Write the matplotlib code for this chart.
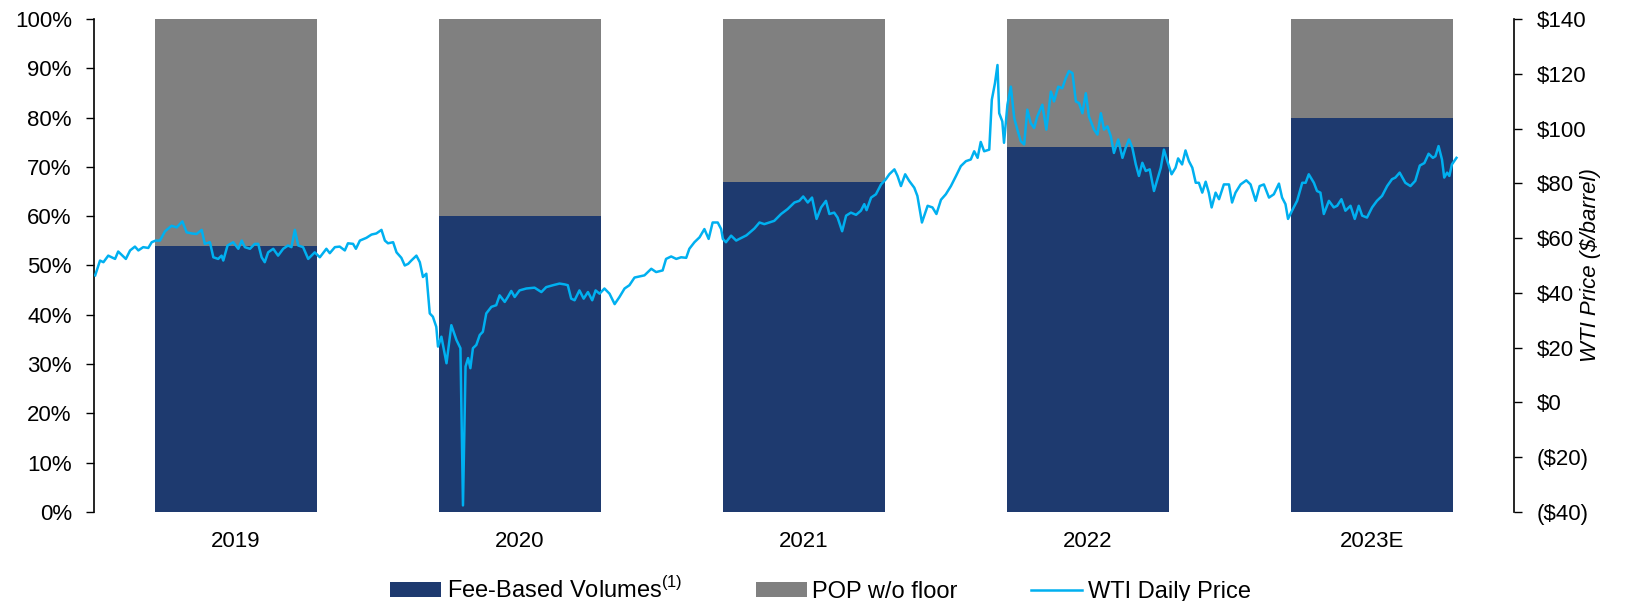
"""Fee-based volume mix by year (stacked bars) with WTI daily price on a secondary axis."""
import matplotlib
matplotlib.use("Agg")
import matplotlib.pyplot as plt
from matplotlib.ticker import FuncFormatter, MultipleLocator

plt.rcParams["font.family"] = ["Liberation Sans", "DejaVu Sans"]
plt.rcParams["mathtext.fontset"] = "custom"
plt.rcParams["mathtext.rm"] = "Liberation Sans"

YEARS = ["2019", "2020", "2021", "2022", "2023E"]
FEE_BASED = [54, 60, 67, 74, 80]          # % of volumes
POP_NO_FLOOR = [46, 40, 33, 26, 20]       # % of volumes

# WTI daily price (decimal year, $/barrel)
WTI_T = [
    2019.004, 2019.021, 2019.033, 2019.050, 2019.074, 2019.085, 2019.112, 2019.127, 2019.144, 2019.156,
    2019.173, 2019.191, 2019.203, 2019.217, 2019.232, 2019.250, 2019.273, 2019.291, 2019.311, 2019.326,
    2019.344, 2019.361, 2019.379, 2019.390, 2019.408, 2019.420, 2019.437, 2019.449, 2019.455, 2019.470,
    2019.490, 2019.508, 2019.520, 2019.531, 2019.549, 2019.566, 2019.578, 2019.590, 2019.601, 2019.613,
    2019.631, 2019.648, 2019.666, 2019.683, 2019.695, 2019.707, 2019.719, 2019.736, 2019.754, 2019.777,
    2019.795, 2019.818, 2019.830, 2019.848, 2019.865, 2019.883, 2019.894, 2019.912, 2019.922, 2019.936,
    2019.959, 2019.977, 2019.994, 2020.012, 2020.024, 2020.035, 2020.053, 2020.065, 2020.082, 2020.094,
    2020.106, 2020.117, 2020.135, 2020.147, 2020.158, 2020.170, 2020.182, 2020.193, 2020.205, 2020.211,
    2020.223, 2020.241, 2020.258, 2020.276, 2020.290, 2020.299, 2020.308, 2020.317, 2020.325, 2020.334,
    2020.346, 2020.358, 2020.369, 2020.381, 2020.399, 2020.416, 2020.428, 2020.446, 2020.457, 2020.469,
    2020.481, 2020.498, 2020.522, 2020.551, 2020.575, 2020.592, 2020.616, 2020.639, 2020.657, 2020.668,
    2020.680, 2020.692, 2020.709, 2020.724, 2020.739, 2020.754, 2020.766, 2020.780, 2020.797, 2020.815,
    2020.833, 2020.850, 2020.868, 2020.885, 2020.903, 2020.921, 2020.938, 2020.962, 2020.979, 2021.002,
    2021.014, 2021.032, 2021.050, 2021.067, 2021.085, 2021.096, 2021.114, 2021.132, 2021.149, 2021.164,
    2021.178, 2021.196, 2021.208, 2021.214, 2021.225, 2021.243, 2021.261, 2021.272, 2021.297, 2021.325,
    2021.343, 2021.360, 2021.378, 2021.395, 2021.419, 2021.442, 2021.466, 2021.483, 2021.497, 2021.513,
    2021.528, 2021.544, 2021.560, 2021.577, 2021.589, 2021.606, 2021.618, 2021.634, 2021.648, 2021.665,
    2021.683, 2021.700, 2021.712, 2021.720, 2021.736, 2021.753, 2021.771, 2021.788, 2021.800, 2021.818,
    2021.829, 2021.841, 2021.856, 2021.870, 2021.888, 2021.899, 2021.915, 2021.935, 2021.952, 2021.966,
    2021.982, 2021.999, 2022.017, 2022.035, 2022.052, 2022.070, 2022.087, 2022.099, 2022.111, 2022.122,
    2022.134, 2022.152, 2022.161, 2022.172, 2022.181, 2022.187, 2022.198, 2022.204, 2022.216, 2022.228,
    2022.240, 2022.251, 2022.263, 2022.275, 2022.286, 2022.298, 2022.310, 2022.321, 2022.339, 2022.353,
    2022.369, 2022.380, 2022.395, 2022.409, 2022.421, 2022.433, 2022.445, 2022.457, 2022.468, 2022.480,
    2022.492, 2022.503, 2022.521, 2022.533, 2022.545, 2022.556, 2022.568, 2022.580, 2022.591, 2022.606,
    2022.621, 2022.632, 2022.644, 2022.656, 2022.668, 2022.679, 2022.691, 2022.703, 2022.717, 2022.732,
    2022.744, 2022.756, 2022.767, 2022.779, 2022.794, 2022.808, 2022.817, 2022.831, 2022.843, 2022.855,
    2022.867, 2022.879, 2022.890, 2022.902, 2022.914, 2022.925, 2022.935, 2022.949, 2022.961, 2022.978,
    2022.996, 2023.007, 2023.019, 2023.037, 2023.057, 2023.072, 2023.090, 2023.104, 2023.119, 2023.137,
    2023.154, 2023.172, 2023.183, 2023.195, 2023.204, 2023.218, 2023.236, 2023.254, 2023.266, 2023.277,
    2023.295, 2023.306, 2023.318, 2023.330, 2023.348, 2023.365, 2023.377, 2023.392, 2023.406, 2023.424,
    2023.439, 2023.453, 2023.465, 2023.482, 2023.500, 2023.517, 2023.535, 2023.553, 2023.570, 2023.582,
    2023.597, 2023.617, 2023.635, 2023.652, 2023.668, 2023.684, 2023.699, 2023.714, 2023.723, 2023.734,
    2023.746, 2023.754, 2023.764, 2023.772, 2023.781, 2023.797,
]
WTI_PRICE = [
    46.4, 51.8, 51.2, 53.6, 52.4, 55.1, 52.4, 55.5, 56.9, 55.5,
    56.7, 56.4, 58.5, 59.1, 59.1, 62.5, 64.5, 63.9, 66.1, 62.1,
    61.7, 61.5, 63.0, 57.9, 58.5, 53.0, 52.4, 53.6, 51.8, 57.3,
    58.5, 56.1, 59.1, 56.7, 56.1, 57.9, 57.9, 53.0, 51.2, 54.8,
    56.1, 53.6, 56.1, 57.3, 56.7, 63.0, 57.3, 56.7, 52.4, 54.8,
    53.0, 56.1, 54.5, 56.7, 56.9, 55.5, 58.1, 57.9, 56.1, 59.1,
    60.1, 61.3, 61.7, 63.0, 59.1, 58.1, 58.5, 54.8, 52.8, 50.0,
    50.6, 51.8, 53.6, 51.2, 45.8, 47.0, 32.5, 31.3, 27.6, 20.4,
    24.0, 14.3, 28.2, 22.8, 19.8, -37.6, 13.1, 16.2, 12.5, 19.8,
    21.0, 24.6, 25.8, 32.5, 34.9, 35.5, 39.1, 36.7, 38.5, 40.7,
    38.5, 40.9, 41.6, 41.9, 40.3, 42.1, 42.8, 43.4, 43.1, 42.8,
    37.9, 37.3, 40.9, 37.9, 40.3, 37.3, 40.9, 39.7, 41.6, 39.7,
    35.9, 38.5, 41.6, 42.8, 45.6, 46.0, 46.4, 48.8, 47.6, 48.2,
    52.4, 53.3, 52.4, 53.0, 52.8, 56.1, 58.5, 60.3, 63.3, 59.7,
    65.7, 65.7, 63.3, 59.7, 58.5, 60.9, 59.1, 59.7, 61.0, 63.5,
    65.7, 65.1, 65.7, 66.3, 68.8, 70.6, 73.0, 73.6, 75.2, 73.0,
    74.8, 67.0, 71.2, 73.6, 68.8, 69.3, 67.5, 62.5, 68.2, 69.3,
    68.5, 70.0, 72.4, 70.2, 74.8, 76.0, 79.6, 81.5, 83.3, 85.1,
    82.7, 79.0, 83.3, 80.9, 78.4, 75.4, 65.7, 71.8, 71.2, 68.8,
    74.0, 76.0, 79.0, 82.7, 86.3, 88.1, 88.7, 91.7, 89.3, 95.1,
    91.7, 92.3, 110.5, 116.5, 123.2, 105.6, 102.6, 94.8, 108.7, 115.3,
    103.8, 99.6, 95.4, 94.2, 106.9, 102.0, 100.2, 104.4, 108.7, 99.6,
    113.5, 109.9, 115.3, 114.7, 118.3, 121.0, 120.2, 109.9, 109.3, 105.6,
    112.9, 104.4, 99.6, 97.8, 105.6, 99.6, 100.8, 97.2, 91.1, 96.0,
    89.3, 92.9, 96.0, 92.9, 86.9, 82.7, 87.5, 84.5, 85.1, 77.2,
    81.5, 85.7, 92.3, 88.1, 83.3, 85.7, 89.1, 86.9, 92.0, 88.1,
    85.7, 80.2, 80.2, 76.6, 80.6, 76.6, 71.2, 76.6, 74.2, 79.6,
    79.6, 73.0, 76.6, 79.6, 81.1, 79.6, 73.6, 79.0, 79.6, 74.8,
    76.0, 79.9, 74.8, 72.4, 67.0, 70.0, 73.6, 80.2, 80.2, 83.3,
    80.2, 77.2, 76.6, 68.8, 73.6, 71.2, 71.8, 74.2, 70.0, 71.8,
    67.0, 71.8, 68.2, 67.5, 71.2, 73.6, 75.4, 79.0, 81.5, 82.1,
    83.9, 80.2, 79.0, 80.9, 86.5, 87.4, 90.8, 89.3, 89.9, 93.6,
    88.7, 82.1, 83.9, 82.7, 86.9, 89.3,
]

NAVY = "#1E3A6F"
GREY = "#808080"
CYAN = "#00B0F0"
FS = 16


def money(v, _pos):
    return f"(${abs(v):.0f})" if v < 0 else f"${v:.0f}"


fig = plt.figure(figsize=(16.3, 6.01), dpi=100)
ax = fig.add_axes([0.0577, 0.1481, 0.8712, 0.8203])

x = range(len(YEARS))
b1 = ax.bar(x, FEE_BASED, width=0.57, color=NAVY, label="Fee-Based Volumes$^{\\mathregular{(1)}}$")
b2 = ax.bar(x, POP_NO_FLOOR, width=0.57, bottom=FEE_BASED, color=GREY, label="POP w/o floor")
ax.set_xlim(-0.5, 4.5)
ax.set_ylim(0, 100)
ax.set_xticks(list(x), YEARS)
ax.yaxis.set_major_locator(MultipleLocator(10))
ax.yaxis.set_major_formatter(FuncFormatter(lambda v, _p: f"{v:.0f}%"))
ax.tick_params(axis="y", length=6, width=1, pad=10, labelsize=FS)
ax.tick_params(axis="x", length=0, pad=14, labelsize=FS)
for side in ("top", "right", "bottom"):
    ax.spines[side].set_visible(False)
ax.spines["left"].set_linewidth(1.2)

# right axis: price scale; a second x axis in decimal years for the daily series
ax2 = ax.twinx()
ax2.set_ylim(-40, 140)
ax2.yaxis.set_major_locator(MultipleLocator(20))
ax2.yaxis.set_major_formatter(FuncFormatter(money))
ax2.tick_params(axis="y", length=6, width=1, pad=10, labelsize=FS)
for side in ("top", "left", "bottom"):
    ax2.spines[side].set_visible(False)
ax2.spines["right"].set_linewidth(1.2)
ax2.set_ylabel("WTI Price ($/barrel)", fontsize=FS, style="italic")
ax2.yaxis.label.set_va("center")
ax2.yaxis.set_label_coords(1.054, 0.5)

ax3 = ax2.twiny()
ax3.set_xlim(2019, 2024)
ax3.xaxis.set_visible(False)
for s in ax3.spines.values():
    s.set_visible(False)
ln, = ax3.plot(WTI_T, WTI_PRICE, color=CYAN, lw=1.8, label="WTI Daily Price")

fig.legend(handles=[b1, b2, ln], loc="center", bbox_to_anchor=(0.5034, 0.0185), ncol=3,
           frameon=False, fontsize=17, handlelength=2.15, handleheight=0.55,
           handletextpad=0.25, columnspacing=3.1, borderpad=0)

fig.savefig("out.png", dpi=100)
